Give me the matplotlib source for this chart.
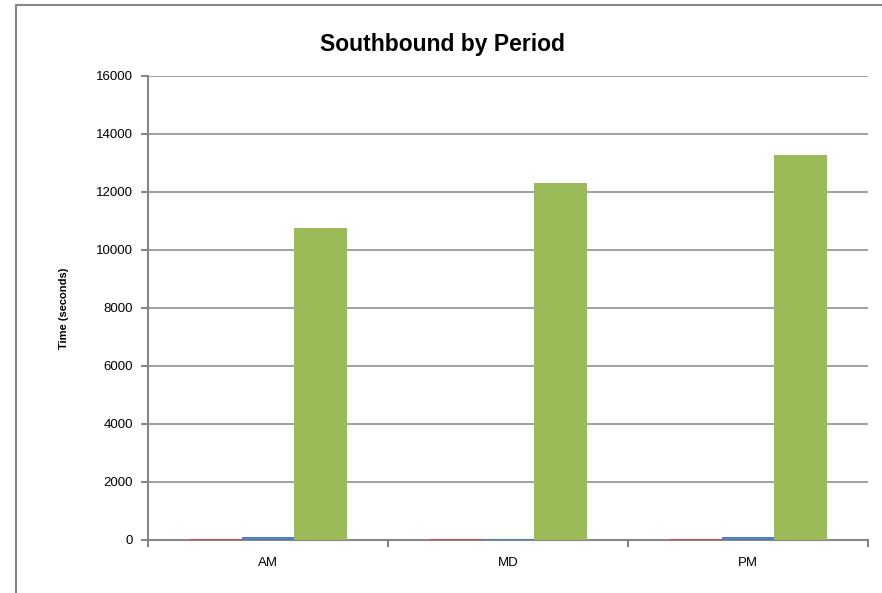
import matplotlib.pyplot as plt
import numpy as np
from matplotlib.patches import Rectangle

periods = ['AM', 'MD', 'PM']
series_red = [50, 50, 50]
series_blue = [110, 50, 120]
series_green = [10750, 12300, 13270]
y_ticks = [0, 2000, 4000, 6000, 8000, 10000, 12000, 14000, 16000]

plt.rcParams['font.family'] = ['Liberation Sans', 'DejaVu Sans']
grey = '#868686'

fig = plt.figure(figsize=(8.82, 5.93), dpi=100)
ax = fig.add_axes([148 / 882, 1 - 540 / 593, 720 / 882, 464 / 593])

x = np.arange(len(periods))
w = 0.22
ax.bar(x - w, series_red, w, color='#C0504D', zorder=5)
ax.bar(x, series_blue, w, color='#4F81BD', zorder=5)
ax.bar(x + w, series_green, w, color='#9BBB59', zorder=5)

ax.set_xlim(-0.5, 2.5)
ax.set_ylim(0, 16000)
ax.set_yticks(y_ticks)
ax.set_yticklabels([str(v) for v in y_ticks], fontsize=9.5)
ax.set_xticks(x)
ax.set_xticklabels(periods, fontsize=9.5)
ax.set_xticks([-0.5, 0.5, 1.5, 2.5], minor=True)
ax.tick_params(axis='x', which='major', length=0, pad=12)
ax.tick_params(axis='x', which='minor', length=5, color=grey, width=1.5)
ax.tick_params(axis='y', length=5, color=grey, width=1.5, pad=6)

ax.grid(axis='y', color=grey, linewidth=1.1, zorder=0)
for s in ['top', 'right']:
    ax.spines[s].set_visible(False)
for s in ['left', 'bottom']:
    ax.spines[s].set_color(grey)
    ax.spines[s].set_linewidth(1.5)
    ax.spines[s].set_zorder(4)

ax.set_ylabel('Time (seconds)', fontsize=8, fontweight='bold', labelpad=19)
fig.text(442 / 882, 1 - 45 / 593, 'Southbound by Period', ha='center', va='center',
         fontsize=16.5, fontweight='bold')

# outer chart border (cropped on right / bottom)
fig.patches.append(Rectangle((16 / 882, -0.1), 1.2, 1 - 5 / 593 + 0.1,
                             transform=fig.transFigure, fill=False,
                             edgecolor=grey, linewidth=1.5))

fig.savefig('out.png', dpi=100)
